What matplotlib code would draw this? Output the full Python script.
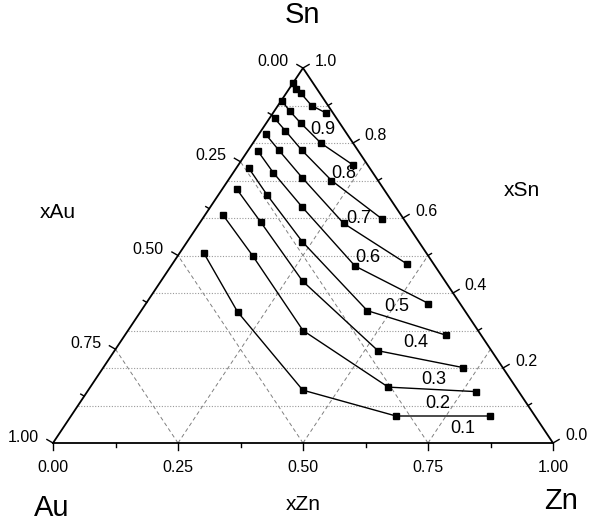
import numpy as np
import matplotlib.pyplot as plt

plt.rcParams['font.family'] = ['Liberation Sans', 'DejaVu Sans']

# Sn activity levels of the iso-activity curves
levels = [0.1, 0.2, 0.3, 0.4, 0.5, 0.6, 0.7, 0.8, 0.9]

# mole fractions of Zn along each curve (one row per level)
zn_frac = [
    [0.047, 0.194, 0.429, 0.650, 0.837],
    [0.037, 0.149, 0.350, 0.596, 0.778],
    [0.029, 0.121, 0.283, 0.527, 0.720],
    [0.024, 0.098, 0.230, 0.452, 0.641],
    [0.020, 0.080, 0.184, 0.368, 0.565],
    [0.014, 0.061, 0.144, 0.288, 0.470],
    [0.010, 0.048, 0.107, 0.207, 0.360],
    [0.002, 0.030, 0.069, 0.137, 0.230],
    [0.001, 0.014, 0.029, 0.067, 0.106],
]

# mole fractions of Sn along each curve
sn_frac = [
    [0.508, 0.350, 0.141, 0.072, 0.072],
    [0.607, 0.500, 0.300, 0.149, 0.137],
    [0.677, 0.589, 0.432, 0.246, 0.201],
    [0.734, 0.661, 0.537, 0.353, 0.288],
    [0.779, 0.721, 0.629, 0.472, 0.372],
    [0.823, 0.781, 0.708, 0.586, 0.477],
    [0.866, 0.833, 0.781, 0.700, 0.597],
    [0.912, 0.886, 0.853, 0.799, 0.741],
    [0.959, 0.944, 0.933, 0.900, 0.880],
]

# where the level labels sit (xZn, xSn)
label_pos = [(0.800, 0.039), (0.716, 0.106), (0.677, 0.170), (0.592, 0.268),
             (0.505, 0.365), (0.383, 0.495), (0.311, 0.599), (0.221, 0.720),
             (0.122, 0.837)]

bottom_ticks = [0.0, 0.25, 0.5, 0.75, 1.0]   # xZn
left_ticks = [0.0, 0.25, 0.5, 0.75, 1.0]     # xAu
right_ticks = [0.0, 0.2, 0.4, 0.6, 0.8, 1.0]  # xSn

W, H = 593, 526
TRI_W, TRI_H = 500.0, 375.0   # triangle size in pixels


def to_xy(zn, sn):
    zn = np.asarray(zn, dtype=float)
    sn = np.asarray(sn, dtype=float)
    return zn + sn / 2.0, sn


def px(dx, dy):
    # pixel offset -> data offset
    return dx / TRI_W, dy / TRI_H


fig = plt.figure(figsize=(W / 100, H / 100), dpi=100)
ax = fig.add_axes([53 / W, (H - 443) / H, TRI_W / W, TRI_H / H])
ax.set_xlim(0, 1)
ax.set_ylim(0, 1)
ax.axis('off')

# grid: dotted horizontals for xSn, dashed lines for xAu / xZn
for s in np.arange(0.1, 0.95, 0.1):
    x0, y0 = to_xy(0, s)
    x1, y1 = to_xy(1 - s, s)
    ax.plot([x0, x1], [y0, y1], color='#9a9a9a', lw=0.8, ls=(0, (1, 1.5)), zorder=1)
for c in [0.25, 0.5, 0.75]:
    # constant xZn
    xa, ya = to_xy([c, c], [0, 1 - c])
    ax.plot(xa, ya, color='#808080', lw=0.7, ls=(0, (4, 3)), zorder=1)
    # constant xAu
    xb, yb = to_xy([1 - c, 0], [0, 1 - c])
    ax.plot(xb, yb, color='#808080', lw=0.7, ls=(0, (4, 3)), zorder=1)

# triangle frame
tx, ty = to_xy([0, 1, 0, 0], [0, 0, 1, 0])
ax.plot(tx, ty, color='black', lw=1.3, zorder=3, clip_on=False)

# ticks and tick labels
tick_kw = dict(color='black', lw=1.0, clip_on=False, zorder=3)
lab_kw = dict(fontsize=11.5, ha='center', va='center',
              textcoords='offset pixels', annotation_clip=False)

for v in np.arange(0, 1.001, 0.125):
    x, y = to_xy(v, 0)
    big = abs(v * 4 - round(v * 4)) < 1e-6
    L = 7 if big else 4
    dx, dy = px(0, -L)
    ax.plot([x, x + dx], [y, y + dy], **tick_kw)
for v in bottom_ticks:
    x, y = to_xy(v, 0)
    ax.annotate(f'{v:.2f}', (x, y), xytext=(0, -24), **lab_kw)

for v in np.arange(0, 1.001, 0.125):
    x, y = to_xy(0, 1 - v)
    big = abs(v * 4 - round(v * 4)) < 1e-6
    L = 7 if big else 4
    dx, dy = px(-L * 0.87, L * 0.5)
    ax.plot([x, x + dx], [y, y + dy], **tick_kw)
for v in left_ticks:
    x, y = to_xy(0, 1 - v)
    ax.annotate(f'{v:.2f}', (x, y), xytext=(-30, 6), **lab_kw)

for v in np.arange(0, 1.001, 0.1):
    x, y = to_xy(1 - v, v)
    big = abs(v * 5 - round(v * 5)) < 1e-6
    L = 7 if big else 4
    dx, dy = px(L * 0.87, L * 0.5)
    ax.plot([x, x + dx], [y, y + dy], **tick_kw)
for v in right_ticks:
    x, y = to_xy(1 - v, v)
    ax.annotate(f'{v:.1f}', (x, y), xytext=(23, 7), **lab_kw)

# iso-activity curves
for lev, zn, sn in zip(levels, zn_frac, sn_frac):
    x, y = to_xy(zn, sn)
    ax.plot(x, y, color='black', lw=1.0, marker='s', ms=5, zorder=4)
for lev, (zn, sn) in zip(levels, label_pos):
    x, y = to_xy(zn, sn)
    ax.text(x, y, f'{lev:.1f}', fontsize=13, ha='center', va='center', zorder=5)

# corner and axis titles
fig.text(302 / W, 1 - 15 / H, 'Sn', fontsize=21, ha='center', va='center')
fig.text(52 / W, 1 - 508 / H, 'Au', fontsize=21, ha='center', va='center')
fig.text(561 / W, 1 - 501 / H, 'Zn', fontsize=21, ha='center', va='center')
fig.text(58 / W, 1 - 213 / H, 'xAu', fontsize=15, ha='center', va='center')
fig.text(522 / W, 1 - 190 / H, 'xSn', fontsize=15, ha='center', va='center')
fig.text(303 / W, 1 - 504 / H, 'xZn', fontsize=15, ha='center', va='center')

fig.savefig('out.png', dpi=100)
